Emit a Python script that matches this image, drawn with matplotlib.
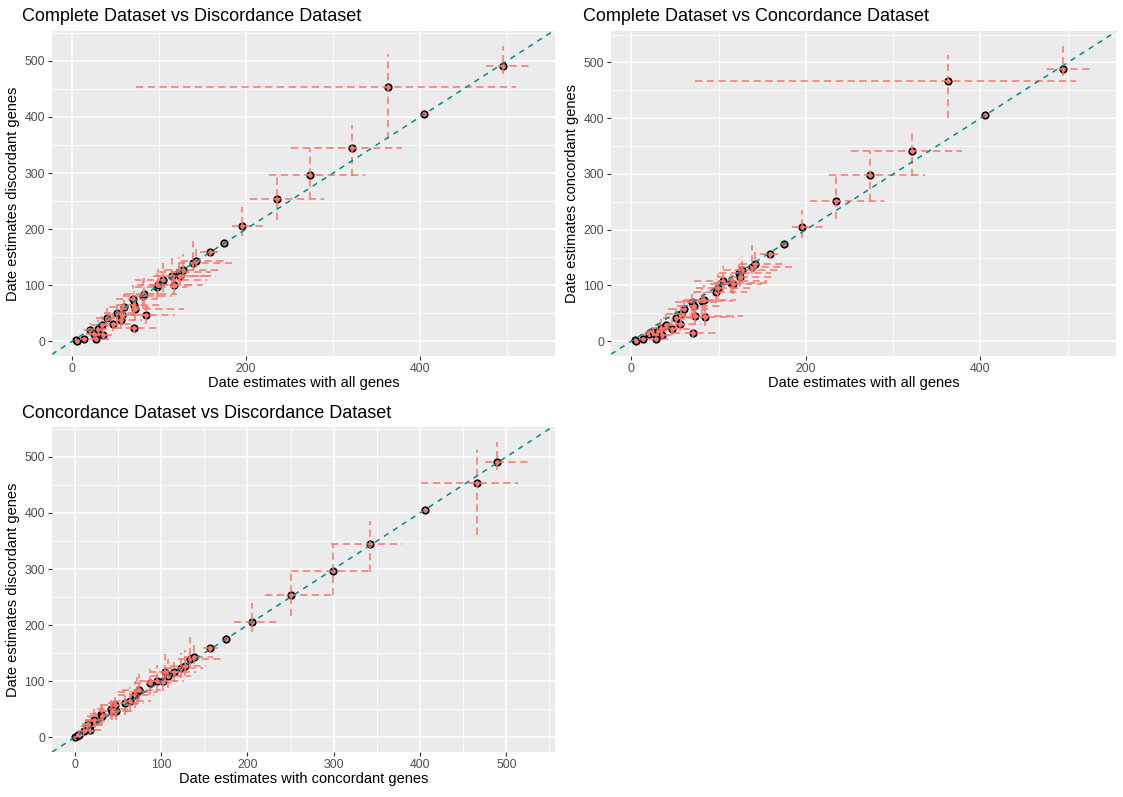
import numpy as np
import matplotlib
matplotlib.use("Agg")
import matplotlib.pyplot as plt
from matplotlib.ticker import MultipleLocator

plt.rcParams['font.family'] = ['Liberation Sans', 'DejaVu Sans']

# node age estimates (and 95% intervals) from the three gene sets
all_est = [4, 5, 13, 20.7, 24.8, 27.7, 30, 35, 34, 39.7, 46.7, 51.7, 56, 57, 60,
           70.7, 69.5, 71.5, 72.4, 81, 82.7, 84.8, 97, 99, 104.6, 114.6, 117,
           122.8, 124, 127, 138.5, 141.8, 158.4, 174.5, 195.6, 235, 274, 322,
           363, 405, 495]
all_lo = [3, 3, 9, 13, 16, 20, 18, 24, 22, 27, 32, 36, 38, 40, 42,
          48, 50, 52, 55, 58, 60, 62, 72, 74, 72, 93, 90,
          100, 98, 105, 122, 125, 147, 172, 184, 205, 226, 252,
          73, 403, 476]
all_hi = [7, 8, 18, 30, 36, 42, 45, 50, 52, 60, 68, 72, 80, 85, 88,
          100, 98, 105, 128, 115, 120, 118, 132, 140, 155, 157, 150,
          160, 165, 170, 184, 175, 168, 177, 223, 290, 337, 379,
          510, 408, 529]

conc_est = [3.0, 0.6, 3.5, 13.6, 17, 4.7, 17.8, 10.7, 23.7, 30, 22.5, 42, 31.4, 48, 58,
            15.4, 70, 64, 46, 71.6, 74.6, 43, 87.6, 95, 108, 105, 102,
            123, 115, 128, 133.7, 138, 156.8, 175, 205, 251, 299, 342,
            466, 406, 489]
conc_lo = [1, 0, 1, 7, 9, 2, 10, 5, 13, 18, 12, 26, 18, 30, 38,
           8, 50, 44, 30, 50, 55, 28, 68, 74, 88, 86, 84,
           104, 98, 110, 120, 126, 148, 173, 185, 220, 251, 297,
           401, 404, 475]
conc_hi = [6, 2, 8, 25, 30, 12, 32, 22, 40, 48, 40, 62, 50, 68, 80,
           30, 92, 88, 66, 95, 100, 62, 112, 120, 135, 130, 126,
           148, 140, 152, 172, 160, 166, 177, 235, 298, 342, 379,
           514, 409, 530]

disc_est = [3, 0, 3.5, 19.6, 13.7, 4.8, 22.6, 10.7, 28.5, 41.6, 31.5, 51, 38.6, 47.5, 61,
            24.3, 75.4, 64, 58, 80.8, 85, 47.5, 96.8, 99.8, 110, 115.8, 99.8,
            123.5, 115.8, 127.7, 139.5, 143, 159.7, 175.2, 205.5, 254, 296, 344,
            453, 406, 491]
disc_lo = [1, 0, 1, 10, 6, 2, 12, 5, 16, 25, 18, 32, 22, 30, 40,
           14, 52, 45, 38, 58, 62, 30, 75, 80, 88, 95, 82,
           105, 100, 110, 125, 130, 150, 173, 188, 217, 254, 295,
           361, 404, 477]
disc_hi = [6, 2, 8, 32, 25, 12, 38, 22, 45, 60, 50, 70, 60, 70, 85,
           40, 100, 90, 80, 108, 112, 65, 122, 128, 140, 148, 125,
           150, 140, 155, 178, 165, 168, 178, 239, 300, 345, 385,
           513, 409, 527]

panels = [
    ("Complete Dataset vs Discordance Dataset", "Date estimates with all genes",
     "Date estimates discordant genes", "all", "disc", 200),
    ("Complete Dataset vs Concordance Dataset", "Date estimates with all genes",
     "Date estimates concordant genes", "all", "conc", 200),
    ("Concordance Dataset vs Discordance Dataset", "Date estimates with concordant genes",
     "Date estimates discordant genes", "conc", "disc", 100),
]
sets = {
    "all": (all_est, all_lo, all_hi),
    "conc": (conc_est, conc_lo, conc_hi),
    "disc": (disc_est, disc_lo, disc_hi),
}

W, H = 1123, 797
fig = plt.figure(figsize=(W / 100, H / 100), dpi=100)
# left, top, right, bottom in pixels
boxes = [(52, 31, 555, 356), (611, 31, 1116, 356), (52, 427, 555, 752)]
title_pos = [(22, 21), (583, 21), (22, 418)]

bg = "#EBEBEB"
err_col = "#F8766D"

for (title, xl, yl, xk, yk, xstep), (l, t, r, b), (tx, ty) in zip(panels, boxes, title_pos):
    ax = fig.add_axes([l / W, 1 - b / H, (r - l) / W, (b - t) / H])
    ax.set_facecolor(bg)
    xe, xlo, xhi = [np.array(v, dtype=float) for v in sets[xk]]
    ye, ylo, yhi = [np.array(v, dtype=float) for v in sets[yk]]

    # ggplot-like 5% expansion
    x0, x1 = xlo.min(), xhi.max()
    y0, y1 = ylo.min(), yhi.max()
    ax.set_xlim(x0 - 0.05 * (x1 - x0), x1 + 0.05 * (x1 - x0))
    ax.set_ylim(y0 - 0.05 * (y1 - y0), y1 + 0.05 * (y1 - y0))

    ax.xaxis.set_major_locator(MultipleLocator(xstep))
    ax.xaxis.set_minor_locator(MultipleLocator(xstep / 2))
    ax.yaxis.set_major_locator(MultipleLocator(100))
    ax.yaxis.set_minor_locator(MultipleLocator(50))
    ax.grid(which="major", color="white", linewidth=1.1)
    ax.grid(which="minor", color="white", linewidth=0.55)
    ax.set_axisbelow(True)
    for s in ax.spines.values():
        s.set_visible(False)
    ax.tick_params(which="major", length=3, width=0.8, color="#333333",
                   labelsize=8.8, labelcolor="#4D4D4D", pad=2)
    ax.tick_params(which="minor", length=0)

    ax.scatter(xe, ye, s=22, facecolor=err_col, edgecolor="black",
               linewidth=1.2, zorder=3)
    ax.hlines(ye, xlo, xhi, colors=err_col, linestyles=(0, (4, 2.5)),
              linewidth=1.3, alpha=0.85, zorder=4)
    ax.vlines(xe, ylo, yhi, colors=err_col, linestyles=(0, (4, 2.5)),
              linewidth=1.3, alpha=0.85, zorder=4)
    ax.axline((0, 0), slope=1, color="#008B8B", linestyle=(0, (3.5, 3.5)),
              linewidth=1.1, zorder=5)

    ax.set_xlabel(xl, fontsize=10.5, color="black")
    ax.set_ylabel(yl, fontsize=10.5, color="black")
    ax.xaxis.set_label_coords(0.5, -0.06)
    ax.yaxis.set_label_coords(-0.064, 0.5)
    fig.text(tx / W, 1 - ty / H, title, fontsize=13, color="black",
             ha="left", va="baseline")

fig.savefig("out.png", dpi=100)
